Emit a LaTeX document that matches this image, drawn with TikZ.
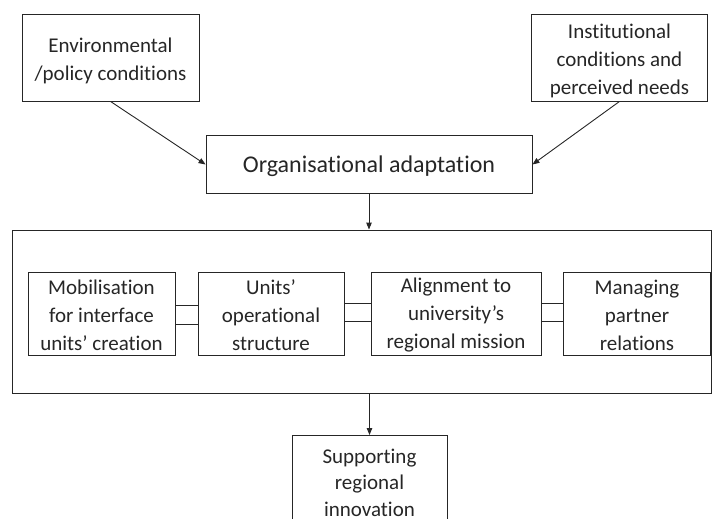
\documentclass[tikz,border=0pt]{standalone}
\usepackage{fontspec}
\setmainfont{Carlito}[Ligatures=NoCommon]
\usetikzlibrary{arrows.meta}
\definecolor{ink}{HTML}{262626}
\tikzset{
  frame/.style={draw=ink, line width=0.9pt, inner sep=0pt},
  txt/.style={align=center, inner sep=0pt, text=ink,
    font=\fontsize{21}{28}\selectfont},
  % box outline with its text set slightly below the centre
  box/.style 2 args={frame, label={[txt, yshift=#1]center:#2}},
  link/.style={draw=ink, line width=0.9pt},
  flow/.style={link, -{Triangle[length=7pt,width=5.5pt]}},
}
\begin{document}
\begin{tikzpicture}[x=1pt,y=-1pt]
\useasboundingbox (0,0) rectangle (712,519);

% inputs and adaptation
\node[box={-3.5pt}{Environmental\\/policy conditions},
  minimum width=177pt, minimum height=87pt] (env) at (110.5,57.5) {};
\node[box={-3pt}{Institutional\\conditions and\\perceived needs},
  minimum width=176pt, minimum height=87pt] (inst) at (619.5,57.5) {};
\node[frame, minimum width=326pt, minimum height=58pt,
  label={[txt, font=\fontsize{24}{30}\selectfont, yshift=-2pt]center:Organisational adaptation}]
  (org) at (369,164.5) {};

% container of the four stages
\node[frame, minimum width=699pt, minimum height=163pt] (group) at (361.5,311.5) {};

\node[box={-2pt}{Mobilisation\\for interface\\units’ creation},
  minimum width=147pt, minimum height=83pt] (mob) at (101.5,313.5) {};
\node[box={-2pt}{Units’\\operational\\structure},
  minimum width=146pt, minimum height=83pt] (ops) at (271,313.5) {};
\node[box={-2pt}{Alignment to\\university’s\\regional mission},
  minimum width=170pt, minimum height=83pt] (align) at (456,313.5) {};
\node[box={-2pt}{Managing\\partner\\relations},
  minimum width=147pt, minimum height=83pt] (mgmt) at (637,313.5) {};

% outcome (runs past the lower edge)
\node[frame, minimum width=155pt, minimum height=100pt, anchor=north,
  label={[txt, font=\fontsize{21}{26.5}\selectfont, yshift=3pt]center:Supporting\\regional\\innovation}]
  (sup) at (369.5,435) {};

% arrows
\draw[flow] (env.south) -- (org.west);
\draw[flow] (inst.south) -- (org.east);
\draw[flow] (org.south) -- (org.south |- group.north);
\draw[flow] (sup.north |- group.south) -- (sup.north);

% paired links between stages
\draw[link] ([yshift=8.5pt]mob.east) -- ([yshift=8.5pt]ops.west);
\draw[link] ([yshift=-10.5pt]mob.east) -- ([yshift=-10.5pt]ops.west);
\draw[link] ([yshift=10.5pt]ops.east) -- ([yshift=10.5pt]align.west);
\draw[link] ([yshift=-7.5pt]ops.east) -- ([yshift=-7.5pt]align.west);
\draw[link] ([yshift=10.5pt]align.east) -- ([yshift=10.5pt]mgmt.west);
\draw[link] ([yshift=-7.5pt]align.east) -- ([yshift=-7.5pt]mgmt.west);
\end{tikzpicture}
\end{document}
